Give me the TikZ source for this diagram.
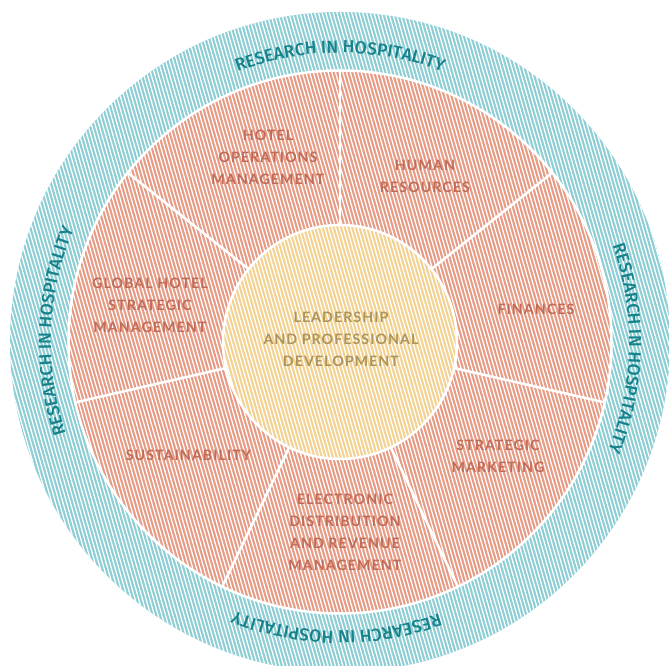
\documentclass[tikz,border=0pt]{standalone}
\usepackage{fontspec}
\setmainfont{Lato}
\newfontfamily\labelfont[LetterSpace=7]{Lato}
\newfontfamily\ringfont{Fira Sans Medium}
\usetikzlibrary{decorations.text}

\definecolor{ringteal}{RGB}{140,206,212}
\definecolor{ringtext}{RGB}{22,130,140}
\definecolor{piefill}{RGB}{231,155,133}
\definecolor{pietext}{RGB}{192,108,88}
\definecolor{corefill}{RGB}{243,210,145}
\definecolor{coretext}{RGB}{172,148,90}

\begin{document}
\begin{tikzpicture}[x=1pt,y=1pt,
  seglabel/.style={font=\labelfont\bfseries\fontsize{14.3}{22}\selectfont, text=pietext, align=center, inner sep=0pt},
  corelabel/.style={seglabel, text=coretext},
  divider/.style={draw=white, line width=2.5pt},
  hatchline/.style={draw=white, line width=1.25pt},
  ringlabel/.style={decorate, decoration={text along path, text align=center,
    text={|\ringfont\fontsize{17.5}{18}\selectfont\color{ringtext}|RESEARCH IN HOSPITALITY}}}
]
\useasboundingbox (-340,-324) rectangle (329,342);
\clip (-340,-324) rectangle (329,342);

% outer ring, wheel and core
\fill[ringteal] (0,0) circle[radius=330];
\fill[piefill] (0,0) circle[radius=271.5];
\fill[corefill] (0,0) circle[radius=117];

% fine diagonal hatching over the whole disc
\begin{scope}
  \clip (0,0) circle[radius=330];
  \foreach \i in {-150,...,150}
    \draw[hatchline] (\i*3.7+100,-340) -- ++(-195,680);
\end{scope}

% separators
\draw[white, line width=2.5pt] (0,0) circle[radius=271.5];
\foreach \k in {0,...,6}
  \draw[divider] ({90-\k*360/7}:117) -- ({90-\k*360/7}:272);
\draw[white, line width=2.5pt] (0,0) circle[radius=117];

% ring captions
\path[ringlabel] (150:289) arc[start angle=150, end angle=30, radius=289];
\path[ringlabel] (58.7:289) arc[start angle=58.7, end angle=-61.3, radius=289];
\path[ringlabel] (-30.7:289) arc[start angle=-30.7, end angle=-150.7, radius=289];
\path[ringlabel] (237.8:289) arc[start angle=237.8, end angle=117.8, radius=289];

% segment labels
\node[seglabel] (hotelops) at (-72,185) {HOTEL\\OPERATIONS\\MANAGEMENT};
\node[seglabel] (human) at (85,165.5) {HUMAN\\RESOURCES};
\node[seglabel] (finances) at (196,33) {FINANCES};
\node[seglabel] (marketing) at (158,-114.5) {STRATEGIC\\MARKETING};
\node[seglabel] (distribution) at (5,-190) {ELECTRONIC\\DISTRIBUTION\\AND REVENUE\\MANAGEMENT};
\node[seglabel] (sustain) at (-151.5,-113) {SUSTAINABILITY};
\node[seglabel] (global) at (-190,36.5) {GLOBAL HOTEL\\STRATEGIC\\MANAGEMENT};
\node[corelabel] (leadership) at (1,2.5) {LEADERSHIP\\AND PROFESSIONAL\\DEVELOPMENT};
\end{tikzpicture}
\end{document}
